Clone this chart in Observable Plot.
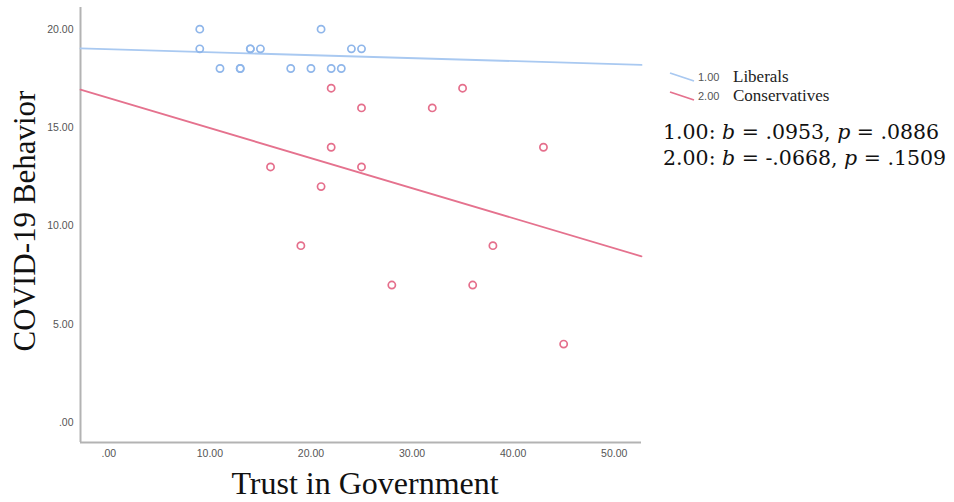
<!DOCTYPE html>
<html>
<head>
<meta charset="utf-8">
<script src="https://cdn.jsdelivr.net/npm/d3@7"></script>
<script src="https://cdn.jsdelivr.net/npm/@observablehq/plot@0.6"></script>
<style>
  html, body { margin: 0; padding: 0; background: #fff; }
  #wrap { position: relative; width: 954px; height: 502px; }
  .legend { position: absolute; left: 668px; top: 67px; font-family: "Liberation Serif", serif; }
  .legrow { display: flex; align-items: center; height: 19px; }
  .legrow .code { font-family: "Liberation Sans", sans-serif; font-size: 11px; color: #555; margin-left: 2px; width: 35px; }
  .legrow .name { font-size: 17px; color: #222; }
  .note { position: absolute; left: 663px; top: 119px; font-family: "DejaVu Serif", serif; font-size: 20.5px; line-height: 26px; color: #111; }
  .note i { font-style: italic; }
</style>
</head>
<body>
<div id="wrap"></div>
<script>
// Data
const libX = [9, 21, 9, 14, 14, 15, 24, 25, 11, 13, 13, 18, 20, 22, 23];
const libY = [20, 20, 19, 19, 19, 19, 19, 19, 18, 18, 18, 18, 18, 18, 18];
const conX = [22, 35, 25, 32, 22, 43, 16, 25, 21, 19, 38, 28, 36, 45];
const conY = [17, 17, 16, 16, 14, 14, 13, 13, 12, 9, 9, 7, 7, 4];
const groups = ["Liberals", "Conservatives"];
const groupCodes = ["1.00", "2.00"];
const fitIntercept = [18.98, 16.50];
const fitSlope = [-0.0151, -0.1526];
const xTicks = [0, 10, 20, 30, 40, 50];
const yTicks = [0, 5, 10, 15, 20];
const statB = [".0953", "-.0668"];
const statP = [".0886", ".1509"];

const xDomain = [-2.8, 52.7];
const yDomain = [-1, 21.1];
const colors = {Liberals: "#8fb6ea", Conservatives: "#e56f8c"};
const lineColors = {Liberals: "#a9c9f1", Conservatives: "#e5728e"};

const points = [
  ...libX.map((x, i) => ({x, y: libY[i], g: "Liberals"})),
  ...conX.map((x, i) => ({x, y: conY[i], g: "Conservatives"}))
];
const fits = [];
groups.forEach((g, i) => {
  xDomain.forEach(x => fits.push({g, x, y: fitIntercept[i] + fitSlope[i] * x}));
});
const fmt = d => d === 0 ? ".00" : d.toFixed(2);

const chart = Plot.plot({
  width: 954,
  height: 502,
  marginLeft: 80,
  marginRight: 313,
  marginTop: 7,
  marginBottom: 60,
  x: {domain: xDomain},
  y: {domain: yDomain},
  style: {background: "#fff"},
  marks: [
    Plot.ruleX([xDomain[0]], {stroke: "#b3b3b3", strokeWidth: 2}),
    Plot.ruleY([yDomain[0]], {stroke: "#b3b3b3", strokeWidth: 2}),
    Plot.axisX({ticks: xTicks, tickFormat: fmt, tickSize: 0, tickPadding: 7, fontSize: 10.5, fill: "#555", fontFamily: "Liberation Sans", label: null}),
    Plot.axisY({ticks: yTicks, tickFormat: fmt, tickSize: 0, tickPadding: 7, fontSize: 10.5, fill: "#555", fontFamily: "Liberation Sans", label: null}),
    Plot.line(fits, {x: "x", y: "y", z: "g", stroke: d => lineColors[d.g], strokeWidth: 1.8}),
    Plot.dot(points, {x: "x", y: "y", r: 3.6, stroke: d => colors[d.g], strokeWidth: 1.7, fill: "none"}),
    Plot.text(["COVID-19 Behavior"], {frameAnchor: "left", textAnchor: "middle", lineAnchor: "middle", rotate: -90, dx: -55, dy: -4, fontSize: 31, fontFamily: "Liberation Serif", fill: "#111"}),
    Plot.text(["Trust in Government"], {frameAnchor: "bottom", textAnchor: "middle", lineAnchor: "middle", dy: 41, dx: 4, fontSize: 32, fontFamily: "Liberation Serif", fill: "#111"})
  ]
});
const wrap = document.getElementById("wrap");
wrap.appendChild(chart);

const legend = document.createElement("div");
legend.className = "legend";
groups.forEach((g, i) => {
  const row = document.createElement("div");
  row.className = "legrow";
  row.innerHTML = `<svg width="28" height="12"><line x1="2" y1="2" x2="26" y2="10" stroke="${lineColors[g]}" stroke-width="1.8"/></svg><span class="code">${groupCodes[i]}</span><span class="name">${g}</span>`;
  legend.appendChild(row);
});
wrap.appendChild(legend);

const note = document.createElement("div");
note.className = "note";
note.innerHTML = groupCodes.map((c, i) => `${c}: <i>b</i> = ${statB[i]}, <i>p</i> = ${statP[i]}`).join("<br>");
wrap.appendChild(note);
</script>
</body>
</html>
